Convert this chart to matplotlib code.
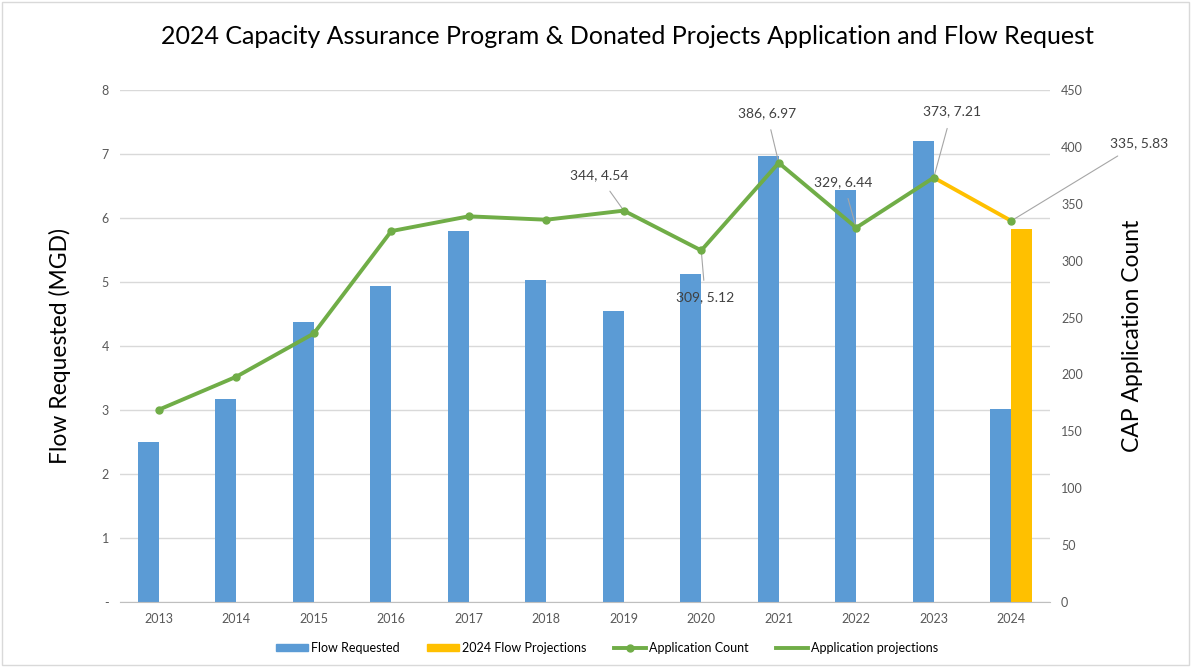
import numpy as np
import matplotlib.pyplot as plt
from matplotlib.lines import Line2D
from matplotlib.patches import Patch, Rectangle

plt.rcParams['font.family'] = ['Lato', 'DejaVu Sans']

# data
years = ['2013', '2014', '2015', '2016', '2017', '2018',
         '2019', '2020', '2021', '2022', '2023', '2024']
flow = [2.50, 3.17, 4.37, 4.93, 5.80, 5.03, 4.54, 5.12, 6.97, 6.44, 7.21, 3.02]
flow_proj = [0, 0, 0, 0, 0, 0, 0, 0, 0, 0, 0, 5.83]
app_count = [169, 198, 236, 326, 339, 336, 344, 309, 386, 329, 373, 335]

# labelled points: index, offset of label in pixels
labels = {6: (-25, 35), 7: (4, -47), 8: (-12, 50), 9: (-13, 46), 10: (18, 66), 11: (128, 78)}

blue = '#5B9BD5'
gold = '#FFC000'
green = '#70AD47'

fig = plt.figure(figsize=(11.91, 6.67), dpi=100)
ax = fig.add_axes([0.1008, 0.0975, 0.7808, 0.7675])
ax2 = ax.twinx()

x = np.arange(len(years))
w = 0.27
ax.bar(x - w / 2, flow, w, color=blue, zorder=2)
ax.bar(x + w / 2, flow_proj, w, color=gold, zorder=2)

ax.set_ylim(0, 8)
ax.set_xlim(-0.5, len(years) - 0.5)
ax.set_yticks(range(9))
ax.set_yticklabels(['-'] + [str(i) for i in range(1, 9)])
ax.set_xticks(x)
ax.set_xticklabels(years)
ax.grid(axis='y', color='#D9D9D9', linewidth=1, zorder=0)
ax.set_axisbelow(True)
for s in ['top', 'right', 'left']:
    ax.spines[s].set_visible(False)
ax.spines['bottom'].set_color('#BFBFBF')
ax.tick_params(axis='both', length=0, colors='#595959', labelsize=9, pad=8)
ax.set_ylabel('Flow Requested (MGD)', fontsize=16.5)
ax.yaxis.set_label_coords(-0.053, 0.5)

# application count line, last segment is the projection
ax2.plot(x[:-1], app_count[:-1], color=green, linewidth=2.8, zorder=3)
ax2.plot(x[-2:], app_count[-2:], color=gold, linewidth=2.8, zorder=3)
ax2.plot(x, app_count, 'o', color=green, markersize=5, zorder=4)
ax2.set_ylim(0, 450)
ax2.set_yticks(range(0, 451, 50))
for s in ax2.spines.values():
    s.set_visible(False)
ax2.tick_params(axis='y', length=0, colors='#595959', labelsize=9, pad=8)
ax2.set_ylabel('CAP Application Count', fontsize=16.5, rotation=90)
ax2.yaxis.set_label_coords(1.077, 0.52)

for i, (dx, dy) in labels.items():
    ax2.annotate('%d, %.2f' % (app_count[i], flow[i] if i < 11 else flow_proj[i]),
                 xy=(x[i], app_count[i]), xytext=(dx, dy), textcoords='offset pixels',
                 ha='center', va='center', fontsize=10, color='#404040',
                 arrowprops=dict(arrowstyle='-', color='#A6A6A6', linewidth=0.8,
                                 shrinkA=6, shrinkB=0))

fig.text(0.527, 0.945,
         '2024 Capacity Assurance Program & Donated Projects Application and Flow Request',
         fontsize=18, ha='center', va='center')

handles = [Patch(color=blue), Patch(color=gold),
           Line2D([], [], color=green, linewidth=2.8, marker='o', markersize=5),
           Line2D([], [], color=green, linewidth=2.8)]
names = ['Flow Requested', '2024 Flow Projections', 'Application Count', 'Application projections']
fig.legend(handles, names, loc='center', bbox_to_anchor=(0.51, 0.028), ncol=4,
           frameon=False, fontsize=9, handlelength=2.5, columnspacing=2.2,
           handletextpad=0.3, handleheight=0.5)

fig.patches.append(Rectangle((0.002, 0.003), 0.996, 0.994, transform=fig.transFigure,
                             fill=False, edgecolor='#D9D9D9', linewidth=1))

fig.savefig('out.png', dpi=100)
